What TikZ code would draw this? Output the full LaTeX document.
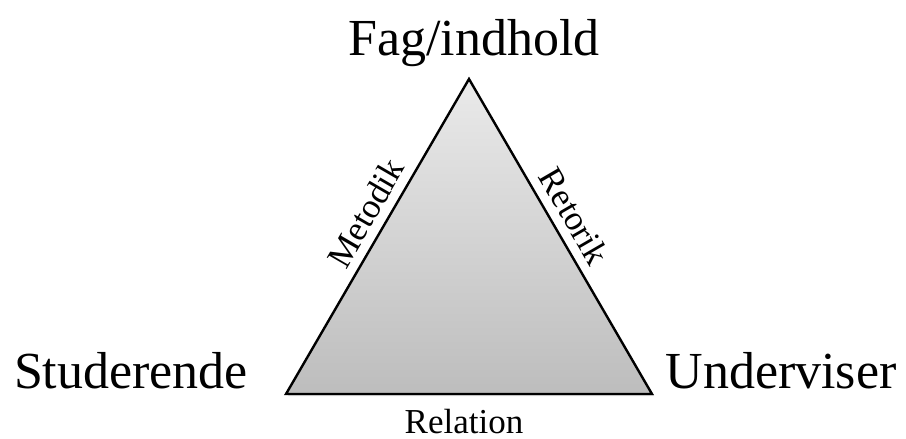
\documentclass[tikz,border=0pt]{standalone}
\usepackage{fontspec}
\setmainfont{Liberation Serif}
\usetikzlibrary{shadows,calc}
\definecolor{topgray}{HTML}{EAEAEA}
\definecolor{botgray}{HTML}{BDBDBD}
\tikzset{
  bigLabel/.style={font=\fontsize{52}{60}\selectfont, inner sep=0pt, anchor=base},
  sideLabel/.style={font=\fontsize{35}{40}\selectfont, inner sep=0pt, anchor=base},
  tri/.style={draw=black, line width=2.4pt, line join=miter, top color=topgray, bottom color=botgray,
    drop shadow={opacity=0.25, shadow xshift=2pt, shadow yshift=-2pt}}
}
\begin{document}
\begin{tikzpicture}[x=1pt,y=-1pt]
\useasboundingbox (0,0) rectangle (906,439);
\coordinate (A) at (469,79);
\coordinate (B) at (286,394);
\coordinate (C) at (652,394);
\path[tri] (A) -- (B) -- (C) -- cycle;
\node[bigLabel] (fag) at (474,55) {Fag/indhold};
\node[bigLabel] (stud) at (131,388) {Studerende};
\node[bigLabel] (und) at (781,388) {Underviser};
\node[sideLabel] (rel) at (464,433) {Relation};
\node[sideLabel, rotate=59.85] (met) at ($(B)!0.54!(A)+(-9,-5)$) {Metodik};
\node[sideLabel, rotate=-59.85] (ret) at ($(A)!0.47!(C)+(9,-5)$) {Retorik};
\end{tikzpicture}
\end{document}
